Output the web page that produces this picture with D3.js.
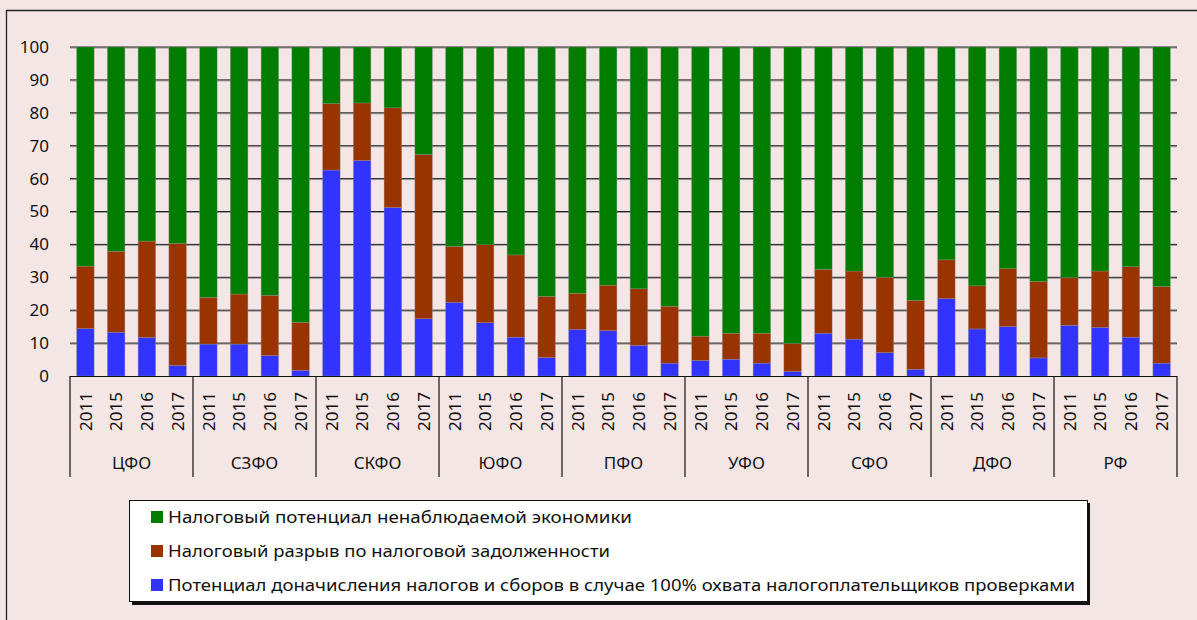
<!DOCTYPE html>
<html>
<head>
<meta charset="utf-8">
<script src="https://cdn.jsdelivr.net/npm/d3@7"></script>
<style>
  body { margin: 0; background: #f5e6e6; }
  svg { display: block; font-family: "Noto Sans", sans-serif; }
</style>
</head>
<body>
<div id="chart"></div>
<script>
// Regions and years
const regions = ['ЦФО', 'СЗФО', 'СКФО', 'ЮФО', 'ПФО', 'УФО', 'СФО', 'ДФО', 'РФ'];
const years = ['2011', '2015', '2016', '2017'];

// Series values (%), 4 years per region in order
const auditPotential = [14.4, 13.3, 11.7, 3.2, 9.7, 9.7, 6.2, 1.7, 62.6, 65.5, 51.2, 17.4,
  22.4, 16.2, 11.8, 5.6, 14.2, 13.8, 9.3, 3.9, 4.7, 5.1, 3.9, 1.4,
  13.0, 11.2, 7.1, 2.0, 23.5, 14.3, 15.0, 5.5, 15.4, 14.8, 11.8, 3.9];
const debtGap = [19.0, 24.6, 29.3, 37.1, 14.2, 15.2, 18.3, 14.6, 20.2, 17.5, 30.3, 49.9,
  17.0, 23.7, 25.0, 18.6, 10.9, 13.8, 17.2, 17.3, 7.4, 7.9, 9.1, 8.5,
  19.4, 20.7, 22.9, 21.0, 11.8, 13.1, 17.6, 23.2, 14.5, 17.1, 21.4, 23.3];
const shadowPotential = [66.6, 62.1, 59.0, 59.7, 76.1, 75.1, 75.5, 83.7, 17.2, 17.0, 18.5, 32.7,
  60.6, 60.1, 63.2, 75.8, 74.9, 72.4, 73.5, 78.8, 87.9, 87.0, 87.0, 90.1,
  67.6, 68.1, 70.0, 77.0, 64.7, 72.6, 67.4, 71.3, 70.1, 68.1, 66.8, 72.8];

const yTicks = [0, 10, 20, 30, 40, 50, 60, 70, 80, 90, 100];

const seriesKeys = ['audit', 'debt', 'shadow'];
const seriesNames = {
  shadow: 'Налоговый потенциал ненаблюдаемой экономики',
  debt: 'Налоговый разрыв по налоговой задолженности',
  audit: 'Потенциал доначисления налогов и сборов в случае 100% охвата налогоплательщиков проверками'
};
const colorMap = { shadow: '#007c00', debt: '#993300', audit: '#3333ff' };
const legendOrder = ['shadow', 'debt', 'audit'];

const W = 1197, H = 620;
const plot = { left: 70, right: 1177, top: 47, bottom: 376 };

// Build the table for d3.stack
const rows = [];
regions.forEach((r, i) => {
  years.forEach((yr, j) => {
    const k = i * years.length + j;
    rows.push({ region: r, year: yr, audit: auditPotential[k], debt: debtGap[k], shadow: shadowPotential[k] });
  });
});

const svg = d3.select('#chart').append('svg')
  .attr('width', W).attr('height', H);

svg.append('rect').attr('width', W).attr('height', H).attr('fill', '#f5e6e6');

// Outer frame (only left and top visible)
svg.append('path')
  .attr('d', `M6.5,${H} V10.5 H${W}`)
  .attr('fill', 'none').attr('stroke', '#222').attr('stroke-width', 1.3);

const x0 = d3.scaleBand().domain(regions).range([plot.left, plot.right]);
const x1 = d3.scaleBand().domain(years).range([0, x0.bandwidth()])
  .paddingInner(0.43).paddingOuter(0.215);
const y = d3.scaleLinear().domain([0, 100]).range([plot.bottom, plot.top]);

// Gridlines
const grid = svg.append('g');
yTicks.filter(t => t > 0).forEach(t => {
  grid.append('line')
    .attr('x1', plot.left).attr('x2', plot.right)
    .attr('y1', y(t) + 1).attr('y2', y(t) + 1)
    .attr('stroke', '#999').attr('stroke-width', 1);
  grid.append('line')
    .attr('x1', plot.left).attr('x2', plot.right)
    .attr('y1', y(t)).attr('y2', y(t))
    .attr('stroke', '#222').attr('stroke-width', 1);
});

// Y axis labels
const yAxis = d3.axisLeft(y).tickValues(yTicks).tickSize(0).tickPadding(0);
const yAxisG = svg.append('g')
  .attr('transform', `translate(${plot.left - 21},0)`)
  .call(yAxis);
yAxisG.select('.domain').remove();
yAxisG.selectAll('text')
  .attr('font-size', 17).attr('font-family', '"Noto Sans", sans-serif').attr('fill', '#111');

// Stacked bars
const stacked = d3.stack().keys(seriesKeys)(rows);
svg.append('g').selectAll('g')
  .data(stacked)
  .join('g')
  .attr('fill', d => colorMap[d.key])
  .selectAll('rect')
  .data(d => d)
  .join('rect')
  .attr('x', d => x0(d.data.region) + x1(d.data.year))
  .attr('width', x1.bandwidth())
  .attr('y', d => y(d[1]))
  .attr('height', d => y(d[0]) - y(d[1]))
  .attr('stroke', 'rgba(150,150,150,0.5)').attr('stroke-width', 0.6);

// Category axis
const axisG = svg.append('g');
axisG.append('line')
  .attr('x1', plot.left).attr('x2', plot.right)
  .attr('y1', plot.bottom + 0.5).attr('y2', plot.bottom + 0.5)
  .attr('stroke', '#111').attr('stroke-width', 1.2);

const bounds = regions.map(r => x0(r)).concat([plot.right]);
axisG.selectAll('.div')
  .data(bounds)
  .join('line')
  .attr('x1', d => d).attr('x2', d => d)
  .attr('y1', plot.bottom).attr('y2', 477)
  .attr('stroke', '#111').attr('stroke-width', 1.2);

// Year labels
rows.forEach(d => {
  const cx = x0(d.region) + x1(d.year) + x1.bandwidth() / 2;
  axisG.append('text')
    .attr('transform', `translate(${cx},392) rotate(-90)`)
    .attr('text-anchor', 'end')
    .attr('dy', '0.36em')
    .attr('font-size', 17)
    .attr('fill', '#111')
    .text(d.year);
});

// Region labels
axisG.selectAll('.reg')
  .data(regions)
  .join('text')
  .attr('x', d => x0(d) + x0.bandwidth() / 2)
  .attr('y', 469)
  .attr('text-anchor', 'middle')
  .attr('font-size', 17)
  .attr('fill', '#111')
  .text(d => d);

// Legend
const lg = svg.append('g');
lg.append('rect').attr('x', 132).attr('y', 503).attr('width', 958).attr('height', 102).attr('fill', '#111');
lg.append('rect').attr('x', 129.5).attr('y', 500.5).attr('width', 958).attr('height', 101)
  .attr('fill', '#fff').attr('stroke', '#111').attr('stroke-width', 1);

const rowY = [523, 557, 591];
const textEnds = [632, 610, 1075];
legendOrder.forEach((k, i) => {
  lg.append('rect')
    .attr('x', 151).attr('y', rowY[i] - 12)
    .attr('width', 12).attr('height', 12)
    .attr('fill', colorMap[k]);
  const t = lg.append('text')
    .attr('x', 168).attr('y', rowY[i])
    .attr('font-size', 17)
    .attr('fill', '#111')
    .text(seriesNames[k]);
  t.attr('textLength', textEnds[i] - 168).attr('lengthAdjust', 'spacingAndGlyphs');
});
</script>
</body>
</html>
